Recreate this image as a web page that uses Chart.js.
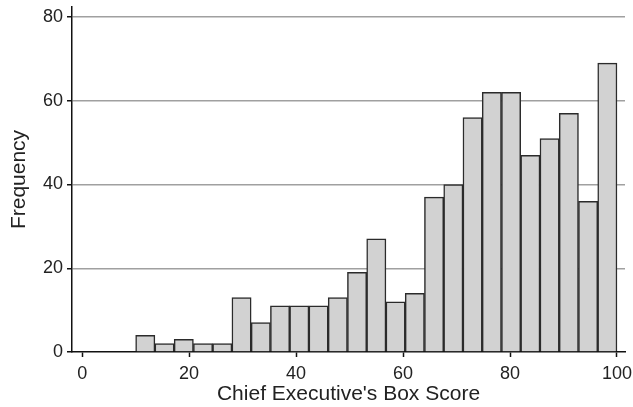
<!DOCTYPE html>
<html>
<head>
<meta charset="utf-8">
<script src="https://cdn.jsdelivr.net/npm/chart.js@4/dist/chart.umd.min.js"></script>
<style>
  html, body { margin: 0; padding: 0; background: #fff; }
  #wrap { width: 633px; height: 407px; }
</style>
</head>
<body>
<div id="wrap"><canvas id="hist"></canvas></div>
<script>
// bin starts (width 3.6) and counts
const binStarts = [10, 13.6, 17.2, 20.8, 24.4, 28, 31.6, 35.2, 38.8, 42.4, 46, 49.6, 53.2,
  56.8, 60.4, 64, 67.6, 71.2, 74.8, 78.4, 82, 85.6, 89.2, 92.8, 96.4];
const frequencies = [4, 2, 3, 2, 2, 13, 7, 11, 11, 11, 13, 19, 27,
  12, 14, 37, 40, 56, 62, 62, 47, 51, 57, 36, 69];
const binWidth = 3.6;
const xTicks = [0, 20, 40, 60, 80, 100];
const yTicks = [0, 20, 40, 60, 80];

const puntos = binStarts.map((b, i) => ({ x: b + binWidth / 2, y: frequencies[i] }));

Chart.defaults.font.family = "'Liberation Sans', Arial, sans-serif";
Chart.defaults.font.size = 18;
Chart.defaults.color = "#222";

const ctx = document.getElementById("hist").getContext("2d");
new Chart(ctx, {
  type: "bar",
  data: {
    datasets: [{
      data: puntos,
      backgroundColor: "#d2d2d2",
      borderColor: "#2b2b2b",
      borderWidth: 1.5,
      barPercentage: 1,
      categoryPercentage: 1
    }]
  },
  options: {
    responsive: true,
    maintainAspectRatio: false,
    animation: false,
    devicePixelRatio: 1,
    layout: { padding: { top: 7, right: 8, left: 0, bottom: 0 } },
    plugins: {
      legend: { display: false },
      tooltip: { enabled: false }
    },
    scales: {
      x: {
        type: "linear",
        offset: false,
        min: -1.9,
        max: 101.5,
        afterBuildTicks: (s) => { s.ticks = xTicks.map(v => ({ value: v })); },
        afterFit: (s) => { s.height = 55; s.paddingLeft = 0; s.paddingRight = 0; },
        border: { color: "#111", width: 1.5 },
        grid: { offset: false, drawOnChartArea: false, drawTicks: true, tickLength: 5, tickColor: "#111", tickWidth: 1.5 },
        ticks: { padding: 6, maxRotation: 0 },
        title: { display: true, text: "Chief Executive's Box Score", font: { size: 21 }, padding: { top: 0, bottom: 0 } }
      },
      y: {
        min: 0,
        max: 82.4,
        afterBuildTicks: (s) => { s.ticks = yTicks.map(v => ({ value: v })); },
        afterFit: (s) => { s.width = 72; s.paddingTop = 0; s.paddingBottom = 0; },
        border: { color: "#111", width: 1.5 },
        grid: {
          color: (c) => c.tick && c.tick.value === 0 ? "rgba(0,0,0,0)" : "#a0a0a0",
          lineWidth: 1.5,
          tickLength: 5,
          tickColor: "#111",
          tickWidth: 1.5
        },
        ticks: { padding: 4 },
        title: { display: true, text: "Frequency", font: { size: 21 }, padding: { top: 7, bottom: 0 } }
      }
    }
  }
});
</script>
</body>
</html>
